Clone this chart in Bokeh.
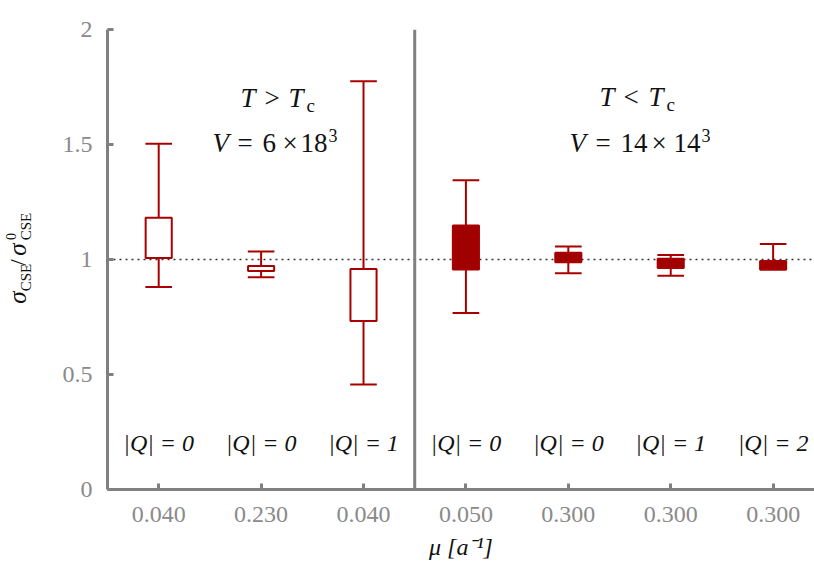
import numpy as np
from bokeh.plotting import figure
from bokeh.layouts import row
from bokeh.models import Label, Span, FixedTicker, ColumnDataSource, Range1d
from bokeh.core.properties import value
from bokeh.embed import file_html
from bokeh.resources import INLINE

# ---- data ----
mu_labels = ["0.040", "0.230", "0.040", "0.050", "0.300", "0.300", "0.300"]
q_values = [0, 0, 1, 0, 0, 1, 2]
whisker_hi = [1.503, 1.035, 1.775, 1.345, 1.057, 1.020, 1.067]
box_hi = [1.181, 0.972, 0.959, 1.148, 1.029, 1.003, 0.993]
box_lo = [1.007, 0.950, 0.733, 0.957, 0.988, 0.963, 0.957]
whisker_lo = [0.880, 0.923, 0.457, 0.767, 0.940, 0.929, 0.957]
filled = [False, False, False, True, True, True, True]
y_ticks = [0, 0.5, 1, 1.5, 2]
y_tick_labels = ["0", "0.5", "1", "1.5", "2"]
reference_level = 1.0
phase_split = 3.5

RED_LINE = "#A80000"
RED_FILL = "#A00000"
GREY = "#808080"
TXT = "#111111"
SERIF = "Liberation Serif"

LEFT_W = 40
W, H = 814, 570
TOP, BOTTOM = 29, 489   # page rows of the plot frame
PX_PER_Y = (BOTTOM - TOP) / 2.0
MID = 0.34              # em-box middle above the baseline, in em

x = np.arange(1, len(mu_labels) + 1)
half = 0.13

p = figure(width=W - LEFT_W, height=H, x_range=(0.5, 7.404), y_range=(0, 2),
           output_backend="svg", toolbar_location=None,
           min_border_left=107 - LEFT_W, min_border_right=0,
           min_border_top=TOP, min_border_bottom=H - BOTTOM)
p.xgrid.visible = False
p.ygrid.visible = False
p.outline_line_color = None
p.background_fill_color = "white"

# reference dotted line and separator
p.add_layout(Span(location=reference_level, dimension="width", line_color="#333333",
                  line_width=1.5, line_dash="2 4", level="underlay"))
p.add_layout(Span(location=phase_split, dimension="height", line_color=GREY, line_width=3))

src = ColumnDataSource(dict(
    x=x, whi=whisker_hi, q3=box_hi, q1=box_lo, wlo=whisker_lo,
    xl=x - half, xr=x + half,
    fill=[RED_FILL if f else "white" for f in filled],
))

# whiskers
p.segment(x0="x", y0="q3", x1="x", y1="whi", source=src, line_color=RED_LINE, line_width=2)
p.segment(x0="x", y0="wlo", x1="x", y1="q1", source=src, line_color=RED_LINE, line_width=2)
p.segment(x0="xl", y0="whi", x1="xr", y1="whi", source=src, line_color=RED_LINE, line_width=2)
p.segment(x0="xl", y0="wlo", x1="xr", y1="wlo", source=src, line_color=RED_LINE, line_width=2)
# boxes
p.vbar(x="x", width=2 * half - 0.005, top="q3", bottom="q1", source=src,
       fill_color="fill", line_color=RED_LINE, line_width=2)

# |Q| labels (baseline at page row 451, anchored on the em-box middle)
Q_SIZE = 24
qsrc = ColumnDataSource(dict(x=x, t=[f"|Q| = {q}" for q in q_values]))
p.text(x="x", y=(BOTTOM - 451 + MID * Q_SIZE) / PX_PER_Y, text="t", source=qsrc,
       text_font=value(SERIF), text_font_style="italic", text_font_size=f"{Q_SIZE}px",
       text_align="center", text_baseline="middle", text_color=TXT)

# axes
for ax in (p.xaxis[0], p.yaxis[0]):
    ax.axis_line_color = GREY
    ax.axis_line_width = 3
    ax.major_tick_line_color = GREY
    ax.major_tick_line_width = 3
    ax.major_tick_in = 6
    ax.major_tick_out = 0
    ax.minor_tick_line_color = None
    ax.major_label_text_font = SERIF
    ax.major_label_text_font_size = "24px"
    ax.major_label_text_color = "#8a8a8a"

p.yaxis.ticker = FixedTicker(ticks=y_ticks)
p.yaxis.major_label_overrides = {t: s for t, s in zip(y_ticks, y_tick_labels)}
p.yaxis.major_label_standoff = 15
p.xaxis.ticker = FixedTicker(ticks=list(x))
p.xaxis.major_label_overrides = {int(i): s for i, s in zip(x, mu_labels)}
p.xaxis.major_label_standoff = 17
p.xaxis.axis_label = "μ [a⁻¹]"
p.xaxis.axis_label_text_font = SERIF
p.xaxis.axis_label_text_font_style = "italic"
p.xaxis.axis_label_text_font_size = "24px"
p.xaxis.axis_label_text_color = TXT
p.xaxis.axis_label_standoff = 9


# ---- annotation texts, placed by page pixel (baseline) converted to data units ----
def X(px):
    return 0.5 + (px - 107.0) / 102.4


def Y(py):
    return (BOTTOM - py) / PX_PER_Y


def txt(px, py, text, size, style="normal"):
    p.add_layout(Label(x=X(px), y=Y(py - MID * size), text=text, text_font=SERIF,
                       text_font_size=f"{size}px", text_font_style=style,
                       text_align="left", text_baseline="middle",
                       text_color=TXT))


# T > Tc, V = 6 x 18^3
txt(240, 107, "T", 27, "italic")
txt(264, 107, ">", 27)
txt(288, 107, "T", 27, "italic")
txt(306, 111, "c", 19)
txt(212, 152, "V", 27, "italic")
txt(237, 152, "=", 27)
txt(262, 152, "6", 27)
txt(282, 152, "×", 27)
txt(300, 152, "18", 27)
txt(328, 141, "3", 18)
# T < Tc, V = 14 x 14^3
txt(599, 106, "T", 27, "italic")
txt(623, 106, "<", 27)
txt(648, 106, "T", 27, "italic")
txt(666, 110, "c", 19)
txt(569, 152, "V", 27, "italic")
txt(595, 152, "=", 27)
txt(620, 152, "14", 27)
txt(651, 152, "×", 27)
txt(673, 152, "14", 27)
txt(701, 141, "3", 18)

# ---- y-axis label: sigma_CSE / sigma^0_CSE, rotated, in a narrow side canvas ----
# (frames in a row are aligned, so this canvas's frame spans page rows TOP..BOTTOM)
lab = figure(width=LEFT_W, height=H, x_range=Range1d(0, LEFT_W), y_range=Range1d(BOTTOM, TOP),
             output_backend="svg", toolbar_location=None,
             x_axis_location=None, y_axis_location=None,
             min_border=0, min_border_left=0, min_border_right=0,
             min_border_top=TOP, min_border_bottom=H - BOTTOM)
lab.xgrid.visible = False
lab.ygrid.visible = False
lab.outline_line_color = None

A = np.pi / 2


def rtxt(px, py, text, size, style="normal"):
    # centred anchor: independent of how the rotation treats alignment
    lab.add_layout(Label(x=px, y=py, text=text, text_font=SERIF,
                         text_font_size=f"{size}px", text_font_style=style,
                         text_align="center", text_baseline="middle",
                         angle=A, text_color=TXT))


rtxt(17, 297, "σ", 25, "italic")
rtxt(25, 277, "CSE", 15)
rtxt(18, 262, "/", 23)
rtxt(17, 249, "σ", 25, "italic")
rtxt(10, 236, "0", 14)
rtxt(25, 226, "CSE", 15)

layout = row(lab, p, spacing=0)
open("out.html", "w").write(file_html(layout, INLINE))
